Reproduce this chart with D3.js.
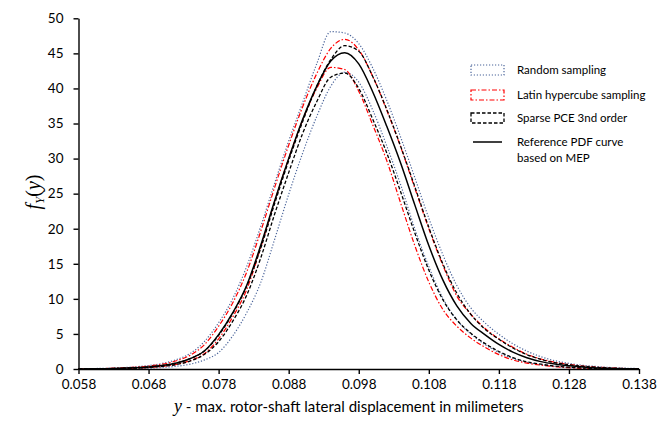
<!DOCTYPE html>
<html>
<head>
<meta charset="utf-8">
<script src="https://cdn.jsdelivr.net/npm/d3@7"></script>
<style>
  body { margin: 0; background: #fff; }
  text { font-family: Lato, "Open Sans", sans-serif; fill: #000; }
</style>
</head>
<body>
<div class="container"></div>
<script>
// x grid (mm)
const xValues = [0.058, 0.060, 0.062, 0.064, 0.066, 0.068, 0.070, 0.072, 0.074, 0.076,
  0.078, 0.080, 0.082, 0.084, 0.086, 0.088, 0.090, 0.092, 0.094, 0.096,
  0.098, 0.100, 0.102, 0.104, 0.106, 0.108, 0.110, 0.112, 0.114, 0.116,
  0.118, 0.120, 0.122, 0.124, 0.126, 0.128, 0.130, 0.132, 0.134, 0.136, 0.138];

const randomUpper = [0.02, 0.06, 0.11, 0.185, 0.3, 0.5, 0.8, 1.35, 2.25, 3.95,
  6.6, 10.0, 14.6, 20.3, 26.5, 32.5, 38.0, 43.5, 48.1, 47.9,
  46.4, 42.9, 38.3, 33.0, 27.3, 21.5, 16.3, 11.9, 8.7, 6.6,
  4.95, 3.6, 2.55, 1.75, 1.18, 0.8, 0.53, 0.35, 0.21, 0.12, 0.06];
const randomLower = [0, 0, 0, 0.03, 0.06, 0.12, 0.22, 0.39, 0.7, 1.3,
  2.35, 4.7, 8.0, 12.3, 18.5, 24.9, 30.8, 36.0, 40.3, 42.3,
  40.9, 36.9, 31.8, 26.2, 20.0, 14.6, 10.1, 7.0, 5.0, 3.5,
  2.35, 1.5, 0.95, 0.6, 0.37, 0.21, 0.11, 0.05, 0.02, 0.01, 0];
const latinUpper = [0.01, 0.04, 0.08, 0.15, 0.25, 0.42, 0.69, 1.17, 2.0, 3.5,
  6.1, 9.4, 13.8, 19.6, 25.9, 31.9, 37.4, 42.1, 45.7, 47.0,
  45.5, 41.7, 36.9, 31.6, 25.8, 20.0, 14.8, 10.4, 7.8, 5.8,
  4.3, 3.1, 2.1, 1.43, 0.96, 0.65, 0.42, 0.26, 0.15, 0.07, 0.04];
const latinLower = [0, 0, 0.03, 0.06, 0.12, 0.22, 0.38, 0.67, 1.22, 2.2,
  4.3, 7.4, 11.3, 17.3, 23.9, 30.0, 35.5, 40.0, 43.0, 42.7,
  39.6, 34.8, 29.7, 23.6, 17.6, 12.4, 8.5, 6.1, 4.4, 3.1,
  2.05, 1.3, 0.84, 0.55, 0.33, 0.18, 0.09, 0.04, 0.02, 0.01, 0];
const pceUpper = [0, 0.02, 0.05, 0.1, 0.18, 0.31, 0.51, 0.86, 1.5, 2.6,
  4.8, 7.9, 11.8, 17.2, 23.6, 29.7, 35.3, 40.3, 44.1, 46.1,
  45.3, 41.7, 37.0, 31.7, 26.0, 20.2, 15.0, 10.8, 7.8, 5.7,
  4.25, 3.0, 2.05, 1.38, 0.9, 0.6, 0.39, 0.24, 0.13, 0.07, 0.03];
const pceLower = [0, 0, 0.03, 0.06, 0.12, 0.22, 0.38, 0.64, 1.15, 2.1,
  3.9, 6.8, 10.5, 15.8, 22.1, 28.0, 33.6, 38.1, 41.6, 42.2,
  40.0, 35.6, 30.8, 25.2, 19.4, 14.1, 9.9, 7.0, 5.1, 3.65,
  2.5, 1.62, 1.03, 0.68, 0.42, 0.26, 0.14, 0.07, 0.03, 0.01, 0];
const referencePdf = [0, 0.02, 0.05, 0.1, 0.18, 0.3, 0.5, 0.85, 1.5, 2.6,
  4.9, 8.0, 11.9, 17.6, 24.0, 30.0, 35.6, 40.3, 43.9, 45.1,
  43.5, 39.5, 34.6, 29.3, 23.4, 17.6, 12.7, 9.0, 6.5, 4.9,
  3.5, 2.4, 1.6, 1.05, 0.7, 0.45, 0.28, 0.16, 0.08, 0.04, 0.01];

const xTicks = [0.058, 0.068, 0.078, 0.088, 0.098, 0.108, 0.118, 0.128, 0.138];
const yTicks = [0, 5, 10, 15, 20, 25, 30, 35, 40, 45, 50];
const legendLabels = ['Random sampling', 'Latin hypercube sampling', 'Sparse PCE 3nd order', ['Reference PDF curve', 'based on MEP']];

const width = 671;
const height = 424;
const plotLeft = 78.5, plotRight = 639, plotTop = 18.3, plotBottom = 369;

const styles = {
  random: { stroke: '#4a649a', width: 1.2, dash: '1.2,1.8' },
  latin: { stroke: '#ff0000', width: 1.2, dash: '5,2,1.5,2' },
  pce: { stroke: '#000', width: 1.3, dash: '3.5,2' },
  ref: { stroke: '#000', width: 1.5, dash: null }
};

const svg = d3.select('.container').append('svg').attr('width', width).attr('height', height);

//scales
const xScale = d3.scaleLinear().domain([0.058, 0.138]).range([plotLeft, plotRight]);
const yScale = d3.scaleLinear().domain([0, 50]).range([plotBottom, plotTop]);

//curves
const line = d3.line()
  .x((d, i) => xScale(xValues[i]))
  .y(d => yScale(d))
  .curve(d3.curveMonotoneX);

const linesGroup = svg.append('g').attr('class', 'lines');
const series = [
  [randomUpper, styles.random], [randomLower, styles.random],
  [latinUpper, styles.latin], [latinLower, styles.latin],
  [pceUpper, styles.pce], [pceLower, styles.pce],
  [referencePdf, styles.ref]
];
series.forEach(([vals, st]) => {
  linesGroup.append('path')
    .attr('d', line(vals))
    .attr('fill', 'none')
    .attr('stroke', st.stroke)
    .attr('stroke-width', st.width)
    .attr('stroke-dasharray', st.dash);
});

//axes
const bottomAxis = d3.axisBottom(xScale).tickValues(xTicks).tickFormat(d3.format('.3f')).tickSize(5).tickSizeOuter(0);
const leftAxis = d3.axisLeft(yScale).tickValues(yTicks).tickFormat(d3.format('d')).tickSize(5).tickSizeOuter(0);

const bottomAxisGroup = svg.append('g').attr('transform', `translate(0,${plotBottom})`).call(bottomAxis);
const leftAxisGroup = svg.append('g').attr('transform', `translate(${plotLeft},0)`).call(leftAxis);

[bottomAxisGroup, leftAxisGroup].forEach(g => {
  g.select('.domain').attr('stroke', '#000').attr('stroke-width', 1.4);
  g.selectAll('.tick line').attr('stroke', '#000').attr('stroke-width', 1.4);
  g.selectAll('.tick text').attr('fill', '#000').style('font-size', '13.5px').style('font-family', 'Lato, sans-serif');
});
bottomAxisGroup.selectAll('.tick text').attr('y', 10);
leftAxisGroup.selectAll('.tick text').attr('x', -15);

//axis titles
const xTitle = svg.append('text')
  .attr('x', (plotLeft + plotRight) / 2 - 10)
  .attr('y', 412)
  .attr('text-anchor', 'middle')
  .style('font-size', '15px');
xTitle.append('tspan').text('y').style('font-family', '"Liberation Serif", serif').style('font-style', 'italic').style('font-size', '18px');
xTitle.append('tspan').text(' - max. rotor-shaft lateral displacement in milimeters');

const yTitle = svg.append('text')
  .attr('transform', 'translate(40,192) rotate(-90)')
  .attr('text-anchor', 'middle')
  .style('font-family', '"Liberation Serif", serif')
  .style('font-style', 'italic')
  .style('font-size', '20px');
yTitle.append('tspan').text('f');
yTitle.append('tspan').text('Y').attr('dy', 4).style('font-size', '13px');
yTitle.append('tspan').text('(').attr('dy', -4).style('font-style', 'normal');
yTitle.append('tspan').text('y');
yTitle.append('tspan').text(')').style('font-style', 'normal');

//legend
const legend = svg.append('g').attr('class', 'legend');
const legendStyles = [styles.random, styles.latin, styles.pce];
const legendY = [65, 90, 113];
legendStyles.forEach((st, i) => {
  legend.append('rect')
    .attr('x', 471).attr('y', legendY[i])
    .attr('width', 33).attr('height', 10)
    .attr('fill', 'none')
    .attr('stroke', st.stroke)
    .attr('stroke-width', st.width)
    .attr('stroke-dasharray', st.dash);
  legend.append('text')
    .attr('x', 517).attr('y', legendY[i] + 9)
    .style('font-size', '11.5px')
    .text(legendLabels[i]);
});
legend.append('line')
  .attr('x1', 473).attr('x2', 502)
  .attr('y1', 142).attr('y2', 142)
  .attr('stroke', styles.ref.stroke)
  .attr('stroke-width', styles.ref.width);
legendLabels[3].forEach((t, i) => {
  legend.append('text')
    .attr('x', 517).attr('y', 146 + i * 15.5)
    .style('font-size', '11.5px')
    .text(t);
});
</script>
</body>
</html>
